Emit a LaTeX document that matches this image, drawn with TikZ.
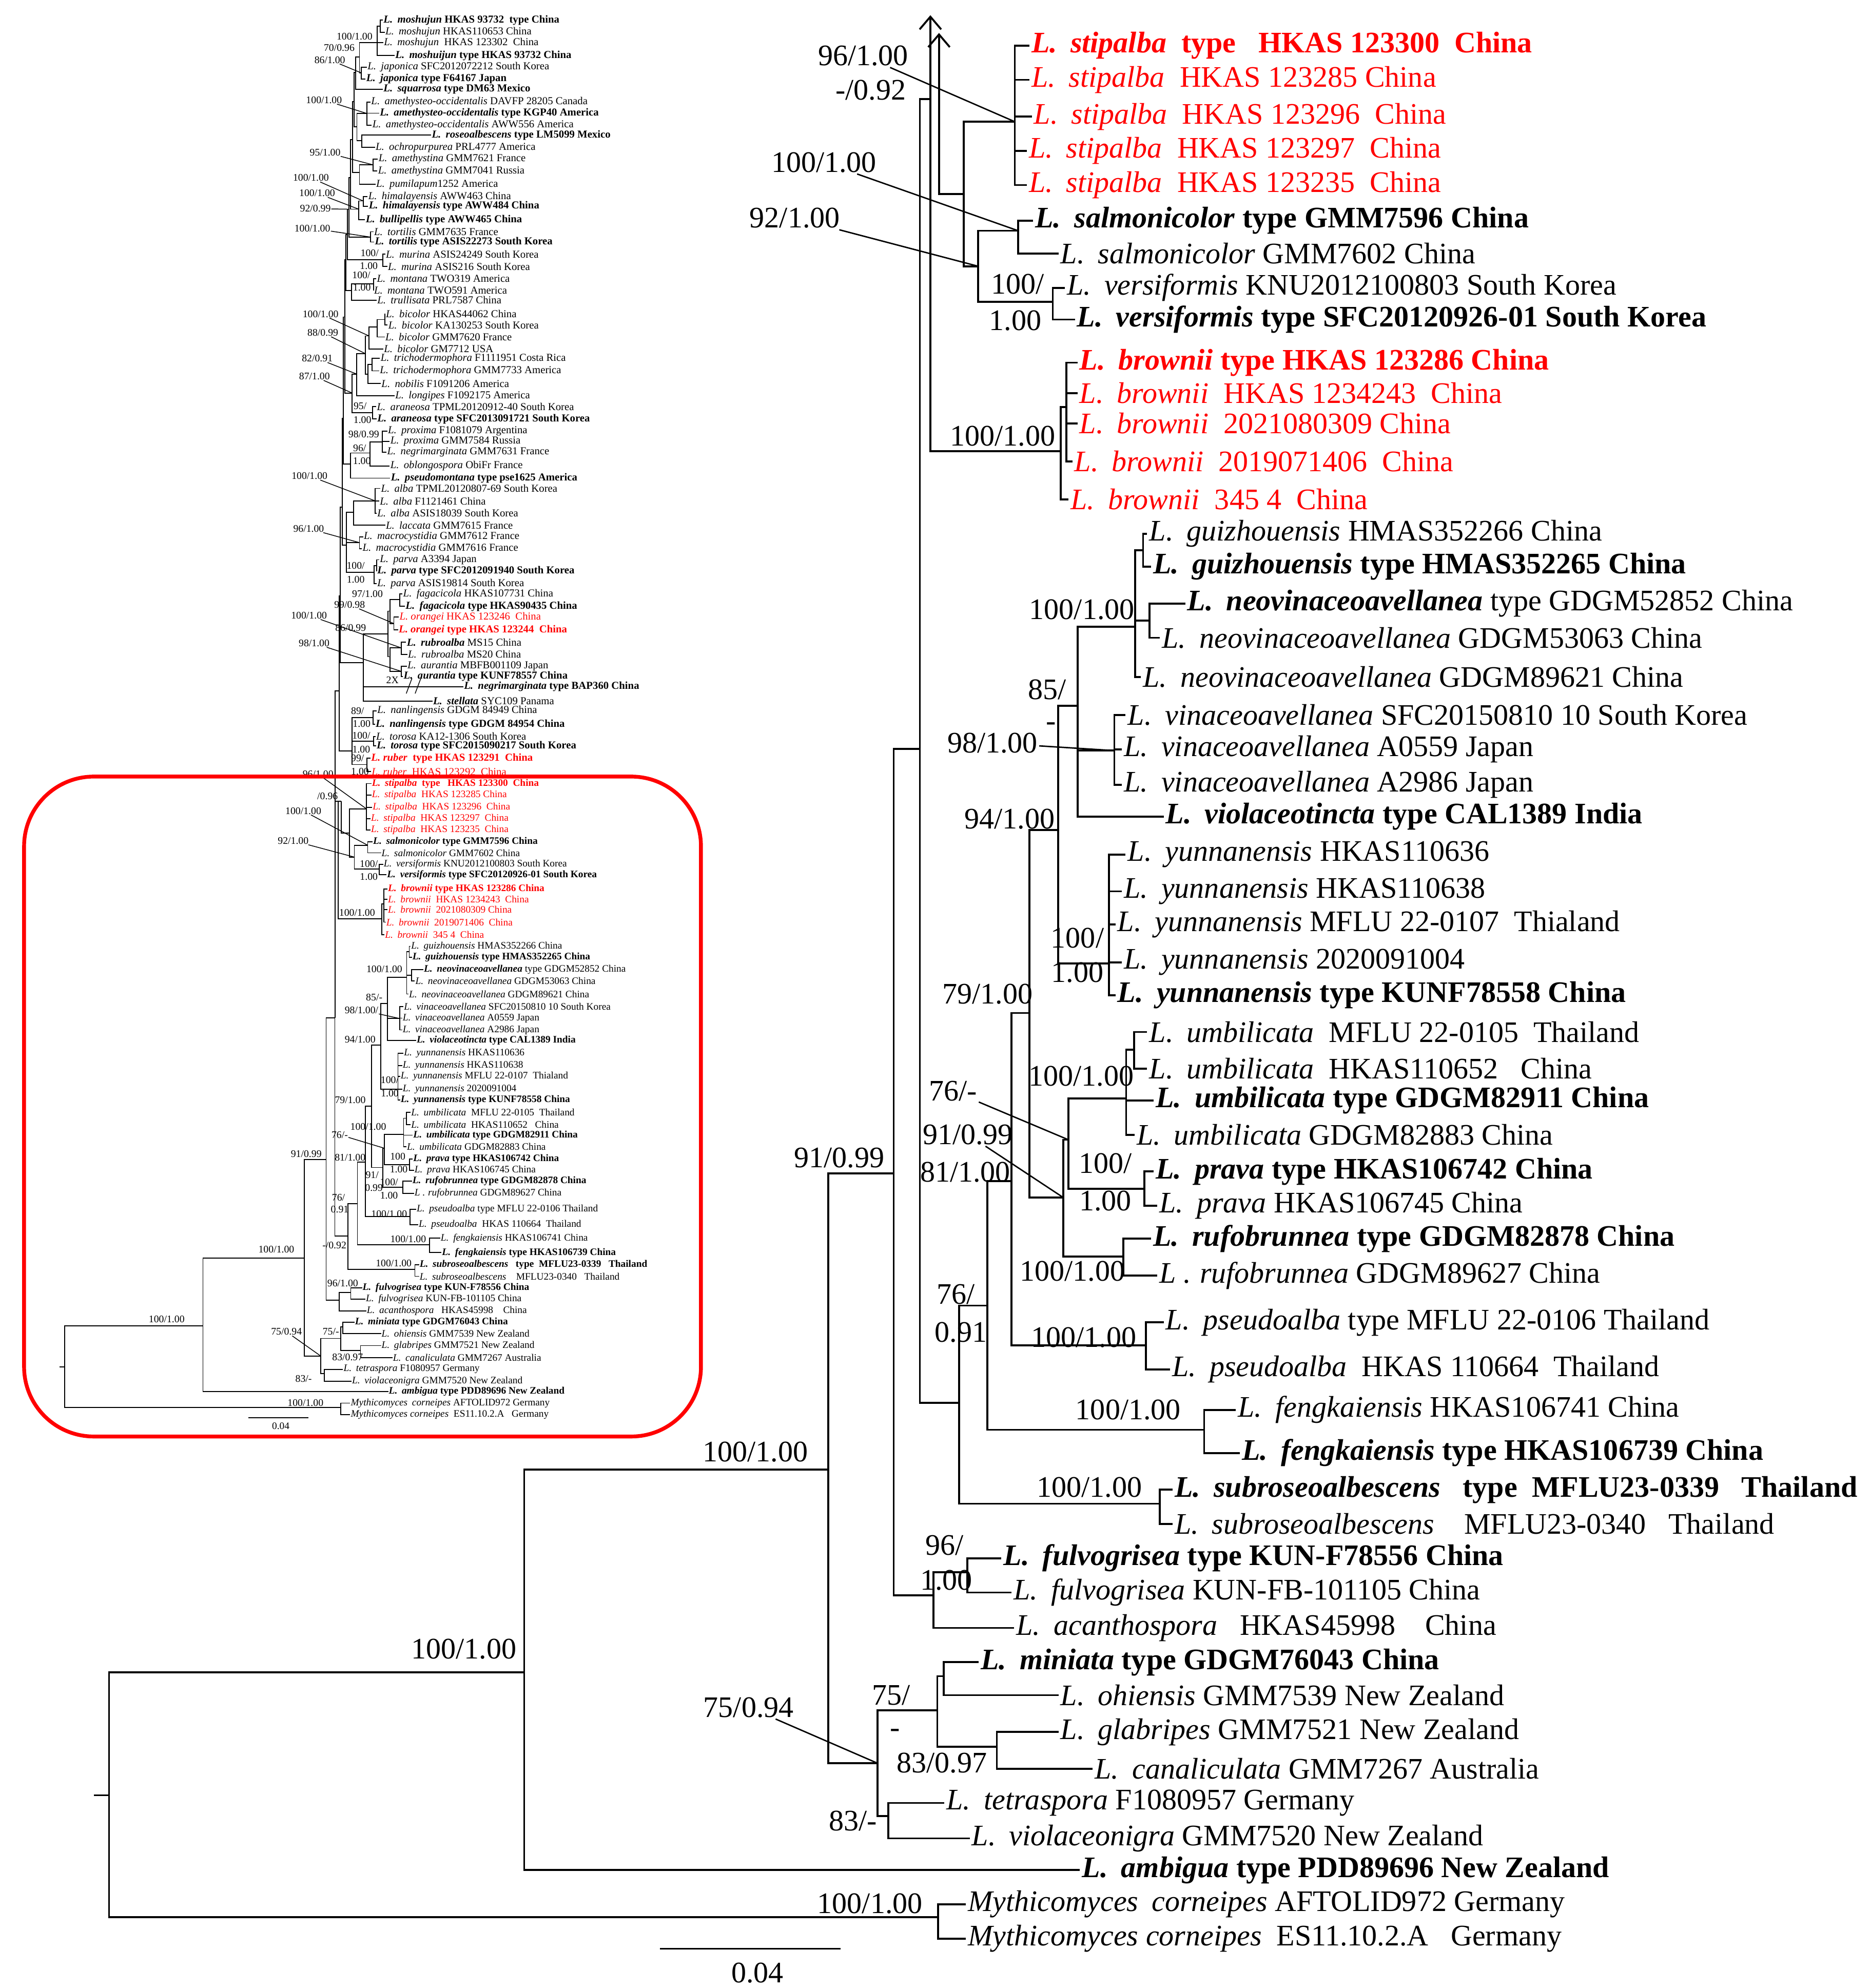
\documentclass[tikz,border=0pt]{standalone}
\usepackage{fontspec}
\setmainfont{Liberation Serif}
\usetikzlibrary{arrows.meta}

\newcommand{\lsp}[1]{\textit{L.}\hspace{0.45em}\textit{#1}}
\newcommand{\msp}{\textit{Mythicomyces}\hspace{0.45em}\textit{corneipes}}

\tikzset{
  leaf/.style={anchor=west, inner sep=1pt, font=\fontsize{23.5}{28}\selectfont},
  redleaf/.style={leaf, text=red},
  sup/.style={inner sep=0.5pt, font=\fontsize{23.5}{28}\selectfont},
  ileaf/.style={anchor=west, inner sep=0.4pt, font=\fontsize{8.4}{10}\selectfont},
  iredleaf/.style={ileaf, text=red},
  isup/.style={inner sep=0.3pt, font=\fontsize{8}{9}\selectfont},
  lead/.style={line width=1.1pt},
  ilead/.style={line width=0.6pt},
  uparrow/.style={-{Straight Barb[length=10pt,width=17pt]}},
}

% the part of the tree inside the red box (drawn large, and again small)
\newcommand{\lowertree}{%
  \node[redleaf] (st1) at (812,36) {\textbf{\lsp{stipalba}\ \ type\ \ \ HKAS 123300\ \ China}};
  \node[redleaf] (st2) at (812,63) {\lsp{stipalba}\ \ HKAS 123285 China};
  \node[redleaf] (st3) at (814,92) {\lsp{stipalba}\ \ HKAS 123296\ \ China};
  \node[redleaf] (st4) at (810,119) {\lsp{stipalba}\ \ HKAS 123297\ \ China};
  \node[redleaf] (st5) at (810,146) {\lsp{stipalba}\ \ HKAS 123235\ \ China};
  \node[leaf] (sal1) at (815,174) {\textbf{\lsp{salmonicolor} type GMM7596 China}};
  \node[leaf] (sal2) at (835,200) {\lsp{salmonicolor} GMM7602 China};
  \node[leaf] (ver1) at (840,227) {\lsp{versiformis} KNU2012100803 South Korea};
  \node[leaf] (ver2) at (848,252) {\textbf{\lsp{versiformis} type SFC20120926-01 South Korea}};
  \node[redleaf] (br1) at (850,286) {\textbf{\lsp{brownii} type HKAS 123286 China}};
  \node[redleaf] (br2) at (850,310) {\lsp{brownii}\ \ HKAS 1234243\ \ China};
  \node[redleaf] (br3) at (850,334) {\lsp{brownii}\ \ 2021080309 China};
  \node[redleaf] (br4) at (846,364) {\lsp{brownii}\ \ 2019071406\ \ China};
  \node[redleaf] (br5) at (843,394) {\lsp{brownii}\ \ 345 4\ \ China};
  \node[leaf] (gz1) at (905,421) {\lsp{guizhouensis} HMAS352266 China};
  \node[leaf] (gz2) at (908,447) {\textbf{\lsp{guizhouensis} type HMAS352265 China}};
  \node[leaf] (ne1) at (935,476) {\textbf{\lsp{neovinaceoavellanea}} type GDGM52852 China};
  \node[leaf] (ne2) at (915,503) {\lsp{neovinaceoavellanea} GDGM53063 China};
  \node[leaf] (ne3) at (900,534) {\lsp{neovinaceoavellanea} GDGM89621 China};
  \node[leaf] (vi1) at (888,564) {\lsp{vinaceoavellanea} SFC20150810 10 South Korea};
  \node[leaf] (vi2) at (885,591) {\lsp{vinaceoavellanea} A0559 Japan};
  \node[leaf] (vi3) at (885,619) {\lsp{vinaceoavellanea} A2986 Japan};
  \node[leaf] (vt) at (918,644) {\textbf{\lsp{violaceotincta} type CAL1389 India}};
  \node[leaf] (yu1) at (888,674) {\lsp{yunnanensis} HKAS110636};
  \node[leaf] (yu2) at (885,703) {\lsp{yunnanensis} HKAS110638};
  \node[leaf] (yu3) at (880,729) {\lsp{yunnanensis} MFLU 22-0107\ \ Thialand};
  \node[leaf] (yu4) at (885,759) {\lsp{yunnanensis} 2020091004};
  \node[leaf] (yu5) at (880,785) {\textbf{\lsp{yunnanensis} type KUNF78558 China}};
  \node[leaf] (um1) at (905,814) {\lsp{umbilicata}\ \ MFLU 22-0105\ \ Thailand};
  \node[leaf] (um2) at (905,843) {\lsp{umbilicata}\ \ HKAS110652\ \ \ China};
  \node[leaf] (um3) at (910,868) {\textbf{\lsp{umbilicata} type GDGM82911 China}};
  \node[leaf] (um4) at (895,895) {\lsp{umbilicata} GDGM82883 China};
  \node[leaf] (pr1) at (910,924) {\textbf{\lsp{prava} type HKAS106742 China}};
  \node[leaf] (pr2) at (913,951) {\lsp{prava} HKAS106745 China};
  \node[leaf] (ru1) at (908,977) {\textbf{\lsp{rufobrunnea} type GDGM82878 China}};
  \node[leaf] (ru2) at (913,1006) {\textit{L .}\hspace{0.3em}\textit{rufobrunnea} GDGM89627 China};
  \node[leaf] (ps1) at (918,1043) {\lsp{pseudoalba} type MFLU 22-0106 Thailand};
  \node[leaf] (ps2) at (923,1080) {\lsp{pseudoalba}\ \ HKAS 110664\ \ Thailand};
  \node[leaf] (fk1) at (975,1112) {\lsp{fengkaiensis} HKAS106741 China};
  \node[leaf] (fk2) at (978,1146) {\textbf{\lsp{fengkaiensis} type HKAS106739 China}};
  \node[leaf] (sb1) at (925,1175) {\textbf{\lsp{subroseoalbescens}\ \ \ type\ \ MFLU23-0339\ \ \ Thailand}};
  \node[leaf] (sb2) at (925,1202) {\lsp{subroseoalbescens}\ \ \ \ MFLU23-0340\ \ \ Thailand};
  \node[leaf] (fu1) at (790,1229) {\textbf{\lsp{fulvogrisea} type KUN-F78556 China}};
  \node[leaf] (fu2) at (798,1256) {\lsp{fulvogrisea} KUN-FB-101105 China};
  \node[leaf] (ac) at (800,1284) {\lsp{acanthospora}\ \ \ HKAS45998\ \ \ \ China};
  \node[leaf] (mi) at (772,1311) {\textbf{\lsp{miniata} type GDGM76043 China}};
  \node[leaf] (oh) at (835,1337) {\lsp{ohiensis} GMM7539 New Zealand};
  \node[leaf] (gl) at (835,1366) {\lsp{glabripes} GMM7521 New Zealand};
  \node[leaf] (ca) at (862,1395) {\lsp{canaliculata} GMM7267 Australia};
  \node[leaf] (te) at (745,1422) {\lsp{tetraspora} F1080957 Germany};
  \node[leaf] (vn) at (765,1450) {\lsp{violaceonigra} GMM7520 New Zealand};
  \node[leaf] (amb) at (852,1475) {\textbf{\lsp{ambigua} type PDD89696 New Zealand}};
  \node[leaf] (my1) at (762,1502) {\msp{} AFTOLID972 Germany};
  \node[leaf] (my2) at (762,1529) {\textit{Mythicomyces corneipes}\ \ ES11.10.2.A\ \ \ Germany};
  % inner nodes
  \coordinate (Rt) at (74,1416);
  \coordinate (R0) at (86,1416);
  \coordinate (N1) at (413.5,1319);
  \coordinate (N2) at (653.4,1159);
  \coordinate (N3) at (705,925.5);
  \coordinate (N4) at (725.7,590.8);
  \coordinate (T1) at (734,78);
  \coordinate (T2) at (740.8,78);
  \coordinate (S) at (760.4,153);
  \coordinate (St) at (800.6,96);
  \coordinate (SV) at (771.7,210);
  \coordinate (Sal) at (803.3,182);
  \coordinate (Ver) at (830.6,238);
  \coordinate (B) at (836.8,356);
  \coordinate (B2) at (841.3,321);
  \coordinate (N5) at (756.6,1106.4);
  \coordinate (N6) at (779,1029.7);
  \coordinate (N7) at (798,931.7);
  \coordinate (N8) at (812,799);
  \coordinate (N9) at (834.7,654.7);
  \coordinate (N11) at (850.2,556.7);
  \coordinate (GN) at (895.6,494.3);
  \coordinate (Gz) at (901.8,434);
  \coordinate (Ne) at (907,489.5);
  \coordinate (Vi) at (879.1,592);
  \coordinate (Yu) at (875,759.8);
  \coordinate (N10) at (838.8,944.5);
  \coordinate (N12) at (843,899);
  \coordinate (Um) at (888.4,866.4);
  \coordinate (Um2) at (894.6,828);
  \coordinate (Pr) at (902.8,937.5);
  \coordinate (Ru) at (886.3,991);
  \coordinate (Ps) at (903.9,1061);
  \coordinate (Fk) at (950,1127.7);
  \coordinate (Sb) at (915,1186);
  \coordinate (F) at (736.4,1258.4);
  \coordinate (F2) at (763.2,1240);
  \coordinate (N75) at (692.3,1390.7);
  \coordinate (N13) at (739.5,1349);
  \coordinate (N15) at (744.6,1322);
  \coordinate (N16) at (786.4,1377.6);
  \coordinate (N14) at (700.9,1432.4);
  \coordinate (My) at (740,1512);
  % branches
  \draw (Rt) -- (R0);
  \foreach \a/\b in {R0/N1, R0/My, N1/N2, N2/N3, N2/N75, N3/N4, N3/F, N4/T1, N4/N5,
      T1/B, T2/S, S/St, S/SV, SV/Sal, SV/Ver, B/B2, N5/N6, N5/Sb, N6/N7, N6/Fk,
      N7/N8, N7/Ps, N8/N9, N8/N10, N9/N11, N9/Yu, N11/GN, N11/Vi, GN/Gz, GN/Ne,
      N10/N12, N10/Ru, N12/Um, N12/Pr, Um/Um2, F/F2, N75/N13, N75/N14, N13/N15, N13/N16}
    \draw (\a) |- (\b);
  \foreach \a/\b in {St/st1, St/st2, St/st3, St/st4, St/st5, Sal/sal1, Sal/sal2,
      Ver/ver1, Ver/ver2, B2/br1, B2/br2, B2/br3, B2/br4, B/br5, Gz/gz1, Gz/gz2,
      Ne/ne1, Ne/ne2, GN/ne3, Vi/vi1, Vi/vi2, Vi/vi3, N11/vt, Yu/yu1, Yu/yu2, Yu/yu3,
      Yu/yu4, Yu/yu5, Um2/um1, Um2/um2, Um/um3, Um/um4, Pr/pr1, Pr/pr2, Ru/ru1, Ru/ru2,
      Ps/ps1, Ps/ps2, Fk/fk1, Fk/fk2, Sb/sb1, Sb/sb2, F2/fu1, F2/fu2, F/ac, N15/mi,
      N15/oh, N16/gl, N16/ca, N14/te, N14/vn, N1/amb, My/my1, My/my2}
    \draw (\a) |- (\b.west);
  % scale bar
  \coordinate (sbL) at (520.8,1537);
  \coordinate (sbR) at (663.3,1537);
  \draw (sbL) -- (sbR);
  \node[sup] (sbT) at (597.5,1556) {0.04};
}

\begin{document}
\begin{tikzpicture}[x=1pt, y=-1pt]
  \path[use as bounding box, fill=white] (0,0) rectangle (1475,1568);

  %% enlarged part
  \begin{scope}[name prefix=m-, line width=1.5pt]
    \lowertree
    \coordinate (tipA) at (734,12);
    \coordinate (tipB) at (740.8,26);
    \draw[uparrow] (T1) -- (tipA);
    \draw[uparrow] (T2) -- (tipB);
    \node[sup] (s96) at (681,44) {96/1.00};
    \draw[lead] (s96) -- (St);
    \node[sup] (s092) at (687,71) {-/0.92};
    \node[sup] (s100a) at (650,128) {100/1.00};
    \draw[lead] (s100a) -- (Sal);
    \node[sup] (s92) at (627,172) {92/1.00};
    \draw[lead] (s92) -- (SV);
    \node[sup] (sv1) at (803,224) {100/};
    \node[sup] (sv2) at (801,253) {1.00};
    \node[sup] (sbr) at (791,344) {100/1.00};
    \node[sup] (sgn) at (853.5,481) {100/1.00};
    \node[sup] (s85) at (826,544) {85/};
    \node[sup] (s85b) at (829,573) {-};
    \node[sup] (s98) at (783,586) {98/1.00};
    \draw[lead] (s98) -- (Vi);
    \node[sup] (s94) at (796.5,646) {94/1.00};
    \node[sup] (syu1) at (850,740) {100/};
    \node[sup] (syu2) at (850,767) {1.00};
    \node[sup] (s79) at (779,784) {79/1.00};
    \node[sup] (sum) at (853,849) {100/1.00};
    \node[sup] (s76) at (752,860.7) {76/-};
    \draw[lead] (s76) -- (N12);
    \node[sup] (s91a) at (763.5,894.8) {91/0.99};
    \draw[lead] (s91a) -- (N10);
    \node[sup] (s81) at (761.5,924.6) {81/1.00};
    \node[sup] (spr1) at (872,917.5) {100/};
    \node[sup] (spr2) at (872,947) {1.00};
    \node[sup] (sru) at (846,1002.7) {100/1.00};
    \node[sup] (s76b) at (754,1021) {76/};
    \node[sup] (s76c) at (758,1051) {0.91};
    \node[sup] (sps) at (855,1055) {100/1.00};
    \node[sup] (sfk) at (890,1112) {100/1.00};
    \node[sup] (ssb) at (859.5,1173) {100/1.00};
    \node[sup] (s91b) at (662,913) {91/0.99};
    \node[sup] (sn2) at (596,1145) {100/1.00};
    \node[sup] (sfu1) at (745,1219) {96/};
    \node[sup] (sfu2) at (746.5,1246.5) {1.00};
    \node[sup] (s75a) at (703,1337) {75/};
    \node[sup] (s75b) at (706,1367) {-};
    \node[sup] (s83) at (743,1390.7) {83/0.97};
    \node[sup] (s75) at (590.6,1346.6) {75/0.94};
    \draw[lead] (s75) -- (N75);
    \node[sup] (s83b) at (673,1436) {83/-};
    \node[sup] (sn1) at (365.9,1300.5) {100/1.00};
    \node[sup] (smy) at (686.3,1501.5) {100/1.00};
  \end{scope}

  %% small whole tree
  \begin{scope}[name prefix=in-, shift={(22.3,606)}, scale=1/3, transform shape, line width=0.75pt]
    \lowertree
  \end{scope}

  \node[ileaf] (u1) at (302,15.9) {\textbf{\lsp{moshujun} HKAS 93732\ \ type China}};
  \node[ileaf] (u2) at (303.5,25.4) {\lsp{moshujun} HKAS110653 China};
  \node[ileaf] (u3) at (302.4,33.7) {\lsp{moshujun}\ \ HKAS 123302\ \ China};
  \node[ileaf] (u4) at (311.3,43.8) {\textbf{\lsp{moshuijun} type HKAS 93732 China}};
  \node[ileaf] (u5) at (289.4,53) {\lsp{japonica} SFC2012072212 South Korea};
  \node[ileaf] (u6) at (288.4,62.3) {\textbf{\lsp{japonica} type F64167 Japan}};
  \node[ileaf] (u7) at (302,70.4) {\textbf{\lsp{squarrosa} type DM63 Mexico}};
  \node[ileaf] (u8) at (292.3,80.5) {\lsp{amethysteo-occidentalis} DAVFP 28205 Canada};
  \node[ileaf] (u9) at (299.1,89.3) {\textbf{\lsp{amethysteo-occidentalis} type KGP40 America}};
  \node[ileaf] (u10) at (293.3,98.7) {\lsp{amethysteo-occidentalis} AWW556 America};
  \node[ileaf] (u11) at (340.1,106.6) {\textbf{\lsp{roseoalbescens} type LM5099 Mexico}};
  \node[ileaf] (u12) at (295.8,116.3) {\lsp{ochropurpurea} PRL4777 America};
  \node[ileaf] (u13) at (298.1,125.5) {\lsp{amethystina} GMM7621 France};
  \node[ileaf] (u14) at (297.7,134.9) {\lsp{amethystina} GMM7041 Russia};
  \node[ileaf] (u15) at (296.2,145.4) {\lsp{pumilapum}1252 America};
  \node[ileaf] (u16) at (290,155.1) {\lsp{himalayensis} AWW463 China};
  \node[ileaf] (u17) at (290.4,162.6) {\textbf{\lsp{himalayensis} type AWW484 China}};
  \node[ileaf] (u18) at (288,173.3) {\textbf{\lsp{bullipellis} type AWW465 China}};
  \node[ileaf] (u19) at (294.6,182.8) {\lsp{tortilis} GMM7635 France};
  \node[ileaf] (u20) at (295.2,190.9) {\textbf{\lsp{tortilis} type ASIS22273 South Korea}};
  \node[ileaf] (u21) at (303.9,200.4) {\lsp{murina} ASIS24249 South Korea};
  \node[ileaf] (u22) at (305.5,210.2) {\lsp{murina} ASIS216 South Korea};
  \node[ileaf] (u23) at (296.8,219.7) {\lsp{montana} TWO319 America};
  \node[ileaf] (u24) at (294.6,229.1) {\lsp{montana} TWO591 America};
  \node[ileaf] (u25) at (297.1,236.8) {\lsp{trullisata} PRL7587 China};
  \node[ileaf] (u26) at (303.9,247.6) {\lsp{bicolor} HKAS44062 China};
  \node[ileaf] (u27) at (305.8,256.3) {\lsp{bicolor} KA130253 South Korea};
  \node[ileaf] (u28) at (303.5,265.8) {\lsp{bicolor} GMM7620 France};
  \node[ileaf] (u29) at (302.4,275.2) {\lsp{bicolor} GM7712 USA};
  \node[ileaf] (u30) at (299.7,282.7) {\lsp{trichodermophora} F1111951 Costa Rica};
  \node[ileaf] (u31) at (299.1,292.5) {\lsp{trichodermophora} GMM7733 America};
  \node[ileaf] (u32) at (300.4,302.5) {\lsp{nobilis} F1091206 America};
  \node[ileaf] (u33) at (311.3,312.3) {\lsp{longipes} F1092175 America};
  \node[ileaf] (u34) at (296.8,320.8) {\lsp{araneosa} TPML20120912-40 South Korea};
  \node[ileaf] (u35) at (297.1,330.5) {\textbf{\lsp{araneosa} type SFC2013091721 South Korea}};
  \node[ileaf] (u36) at (305.5,340) {\lsp{proxima} F1081079 Argentina};
  \node[ileaf] (u37) at (307.4,348.1) {\lsp{proxima} GMM7584 Russia};
  \node[ileaf] (u38) at (304.9,356.8) {\lsp{negrimarginata} GMM7631 France};
  \node[ileaf] (u39) at (307.4,367.6) {\lsp{oblongospora} ObiFr France};
  \node[ileaf] (u40) at (307.8,377.1) {\textbf{\lsp{pseudomontana} type pse1625 America}};
  \node[ileaf] (u41) at (300,385.2) {\lsp{alba} TPML20120807-69 South Korea};
  \node[ileaf] (u42) at (299.1,395.3) {\lsp{alba} F1121461 China};
  \node[ileaf] (u43) at (297.1,404.8) {\lsp{alba} ASIS18039 South Korea};
  \node[ileaf] (u44) at (303.9,414.2) {\lsp{laccata} GMM7615 France};
  \node[ileaf] (u45) at (286.5,423.4) {\lsp{macrocystidia} GMM7612 France};
  \node[ileaf] (u46) at (285.5,432.8) {\lsp{macrocystidia} GMM7616 France};
  \node[ileaf] (u47) at (299.1,441.5) {\lsp{parva} A3394 Japan};
  \node[ileaf] (u48) at (297.1,450.4) {\textbf{\lsp{parva} type SFC2012091940 South Korea}};
  \node[ileaf] (u49) at (297.1,460.4) {\lsp{parva} ASIS19814 South Korea};
  \node[ileaf] (u50) at (317.5,468.4) {\lsp{fagacicola} HKAS107731 China};
  \node[ileaf] (u51) at (319.4,478.3) {\textbf{\lsp{fagacicola} type HKAS90435 China}};
  \node[iredleaf] (u52) at (314.6,486.8) {\textit{L. orangei} HKAS 123246\ \ China};
  \node[iredleaf] (u53) at (314,496.8) {\textbf{\textit{L. orangei} type HKAS 123244\ \ China}};
  \node[ileaf] (u54) at (320.4,506.6) {\textbf{\lsp{rubroalba}} MS15 China};
  \node[ileaf] (u55) at (321.3,516.1) {\lsp{rubroalba} MS20 China};
  \node[ileaf] (u56) at (320.9,525.5) {\lsp{aurantia} MBFB001109 Japan};
  \node[ileaf] (u57) at (317.9,533.6) {\textbf{\lsp{aurantia} type KUNF78557 China}};
  \node[ileaf] (u58) at (365.5,541.7) {\textbf{\lsp{negrimarginata} type BAP360 China}};
  \node[ileaf] (u59) at (341.1,552.9) {\textbf{\lsp{stellata}} SYC109 Panama};
  \node[ileaf] (u60) at (297.1,560.6) {\lsp{nanlingensis} GDGM 84949 China};
  \node[ileaf] (u61) at (295.8,571.4) {\textbf{\lsp{nanlingensis} type GDGM 84954 China}};
  \node[ileaf] (u62) at (296.2,580.9) {\lsp{torosa} KA12-1306 South Korea};
  \node[ileaf] (u63) at (296.6,588.3) {\textbf{\lsp{torosa} type SFC2015090217 South Korea}};
  \node[iredleaf] (u64) at (292.3,598) {\textbf{\textit{L. ruber}\ \ type HKAS 123291\ \ China}};
  \node[iredleaf] (u65) at (292.7,608.5) {\textit{L. ruber}\ \ HKAS 123292\ \ China};

  \coordinate (mo1) at (300,20.5);
  \coordinate (mo) at (297.7,33.5);
  \coordinate (ja) at (285,57.5);
  \coordinate (J1) at (283.6,45);
  \coordinate (J2) at (280.7,57);
  \coordinate (am) at (289.4,89.5);
  \coordinate (ro) at (285.5,111);
  \coordinate (AR) at (281.6,100);
  \coordinate (amt) at (294.2,130);
  \coordinate (AT) at (283.6,136);
  \coordinate (hi) at (286.5,158.5);
  \coordinate (HB) at (283,165);
  \coordinate (tt) at (292.3,187);
  \coordinate (mu) at (302,205);
  \coordinate (mt) at (294.6,224);
  \coordinate (MT) at (277.4,229);
  \coordinate (bi1) at (303.5,252);
  \coordinate (bi2) at (297.7,258);
  \coordinate (bi) at (291.2,265);
  \coordinate (tr) at (293.5,287.5);
  \coordinate (TN) at (290.4,295);
  \coordinate (BT) at (288.4,279);
  \coordinate (BL) at (281.3,295);
  \coordinate (ar) at (293.8,325.5);
  \coordinate (BA) at (277.8,310);
  \coordinate (pn) at (301.6,348.5);
  \coordinate (po) at (291.9,357.3);
  \coordinate (PP) at (276.4,366);
  \coordinate (al) at (295.8,395);
  \coordinate (AL) at (279.1,404.1);
  \coordinate (mc) at (283.6,428);
  \coordinate (pa1) at (297.1,446);
  \coordinate (pa) at (295.2,451.3);
  \coordinate (LA) at (273.3,430);
  \coordinate (fa) at (315.5,473);
  \coordinate (or) at (310.7,491.8);
  \coordinate (FO) at (307.8,482);
  \coordinate (rb) at (316.5,511);
  \coordinate (au) at (316.5,529.5);
  \coordinate (RA) at (307.8,518);
  \coordinate (FR) at (305.9,500);
  \coordinate (NS) at (286.5,522.8);
  \coordinate (na) at (294.2,566);
  \coordinate (tor) at (294.6,584.5);
  \coordinate (ru) at (289.4,603);
  \coordinate (NTR) at (277.8,592.3);
  \coordinate (K1) at (279.5,80);
  \coordinate (K2) at (278,110);
  \coordinate (K3) at (276.5,140);
  \coordinate (K4) at (275.2,165);
  \coordinate (K5) at (274,185);
  \coordinate (K6) at (273,205);
  \coordinate (K7) at (272,250);
  \coordinate (K8) at (271,330);
  \coordinate (K9) at (270,400);
  \coordinate (K10) at (268.5,470);
  \coordinate (K11) at (267.5,545);

  \begin{scope}[line width=0.75pt]
    \foreach \a/\b in {mo/mo1, J1/mo, J1/ja, J2/J1, AR/am, AR/ro, AT/amt, HB/hi, MT/mt,
        bi2/bi1, bi/bi2, TN/tr, BT/bi, BT/TN, BL/BT, BA/BL, BA/ar, po/pn, PP/po, AL/al,
        pa/pa1, LA/AL, LA/mc, LA/pa, FO/fa, FO/or, RA/rb, RA/au, FR/FO, FR/RA, NS/FR,
        NTR/na, NTR/tor, NTR/ru, K1/J2, K1/AR, K2/K1, K2/AT, K3/K2, K3/HB, K4/K3, K4/tt,
        K5/K4, K5/mu, K6/K5, K6/MT, K7/K6, K7/BA, K8/K7, K8/PP, K9/K8, K9/LA, K10/K9,
        K10/NS, K11/K10, K11/NTR, in-N4/K11}
      \draw (\a) |- (\b);
    \foreach \a/\b in {mo1/u1, mo1/u2, mo/u3, mo/u4, ja/u5, ja/u6, J2/u7, am/u8, am/u9,
        am/u10, ro/u11, ro/u12, amt/u13, amt/u14, AT/u15, hi/u16, hi/u17, HB/u18,
        tt/u19, tt/u20, mu/u21, mu/u22, mt/u23, mt/u24, MT/u25, bi1/u26, bi1/u27,
        bi2/u28, bi/u29, tr/u30, tr/u31, TN/u32, BL/u33, ar/u34, ar/u35, pn/u36,
        pn/u37, pn/u38, po/u39, PP/u40, al/u41, al/u42, al/u43, AL/u44, mc/u45, mc/u46,
        pa1/u47, pa1/u48, pa/u49, fa/u50, fa/u51, or/u52, or/u53, rb/u54, rb/u55,
        au/u56, au/u57, NS/u58, NS/u59, na/u60, na/u61, tor/u62, tor/u63, ru/u64, ru/u65}
      \draw (\a) |- (\b.west);
    \draw (in-T1) -- (in-T2);
  \end{scope}
  \draw[ilead] (320.5,547) -- (325,535);
  \draw[ilead] (327.5,547) -- (332,535);

  % support values, small tree
  \node[isup] (a1) at (279.7,28.6) {100/1.00};
  \node[isup] (a2) at (267.6,37.5) {70/0.96};
  \node[isup] (a3) at (260.2,47.2) {86/1.00};
  \draw[ilead] (a3) -- (ja);
  \node[isup] (a4) at (255.6,78.9) {100/1.00};
  \draw[ilead] (a4) -- (am);
  \node[isup] (a5) at (256.5,120.1) {95/1.00};
  \draw[ilead] (a5) -- (amt);
  \node[isup] (a6) at (245.3,140.3) {100/1.00};
  \draw[ilead] (a6) -- (hi);
  \node[isup] (a7) at (250.2,152.4) {100/1.00};
  \draw[ilead] (a7) -- (HB);
  \node[isup] (a8) at (248.8,164.6) {92/0.99};
  \draw[ilead] (a8) -- (K4);
  \node[isup] (a9) at (246.4,180.1) {100/1.00};
  \draw[ilead] (a9) -- (tt);
  \node[isup] (a10) at (291.6,199.7) {100/};
  \node[isup] (a11) at (291,209.8) {1.00};
  \node[isup] (a12) at (285,217) {100/};
  \node[isup] (a13) at (285.5,226.7) {1.00};
  \node[isup] (a14) at (252.9,247.6) {100/1.00};
  \draw[ilead] (a14) -- (bi);
  \node[isup] (a15) at (254.7,262.4) {88/0.99};
  \draw[ilead] (a15) -- (BT);
  \node[isup] (a16) at (250.3,282.7) {82/0.91};
  \draw[ilead] (a16) -- (BL);
  \node[isup] (a17) at (248.1,296.8) {87/1.00};
  \draw[ilead] (a17) -- (BA);
  \node[isup] (a18) at (284.1,320.4) {95/};
  \node[isup] (a19) at (285.9,331.2) {1.00};
  \node[isup] (a20) at (287,342.7) {98/0.99};
  \node[isup] (a21) at (283.7,353.5) {96/};
  \node[isup] (a22) at (285.5,363.6) {1.00};
  \node[isup] (a23) at (244.2,375.4) {100/1.00};
  \draw[ilead] (a23) -- (al);
  \node[isup] (a24) at (243.5,416.9) {96/1.00};
  \draw[ilead] (a24) -- (mc);
  \node[isup] (a25) at (280.6,446.3) {100/};
  \node[isup] (a26) at (280.6,457.1) {1.00};
  \node[isup] (a27) at (289.9,468.4) {97/1.00};
  \node[isup] (a28) at (275.8,477) {99/0.98};
  \draw[ilead] (a28) -- (or);
  \node[isup] (a29) at (243.8,485.4) {100/1.00};
  \draw[ilead] (a29) -- (rb);
  \node[isup] (a30) at (276.6,495.2) {86/0.99};
  \node[isup] (a31) at (247.8,507.3) {98/1.00};
  \draw[ilead] (a31) -- (au);
  \node[isup] (a32) at (309.6,536.3) {2X};
  \node[isup] (a33) at (282.1,560.6) {89/};
  \node[isup] (a34) at (285.3,570.7) {1.00};
  \node[isup] (a35) at (285,580.2) {100/};
  \node[isup] (a36) at (285,591) {1.00};
  \node[isup] (a37) at (282.1,598) {99/};
  \node[isup] (a38) at (284,608.5) {1.00};

  \node[isup] (b1) at (250.9,610.5) {96/1.00};
  \draw[ilead] (b1) -- (in-St);
  \node[isup] (b2) at (258.4,628.1) {/0.96};
  \node[isup] (b3) at (239.3,639.5) {100/1.00};
  \draw[ilead] (b3) -- (in-Sal);
  \node[isup] (b4) at (231.3,663.1) {92/1.00};
  \draw[ilead] (b4) -- (in-SV);
  \node[isup] (b5) at (291,681.4) {100/};
  \node[isup] (b6) at (291,691.5) {1.00};
  \node[isup] (b7) at (281.7,719.8) {100/1.00};
  \node[isup] (b8) at (303.2,764.4) {100/1.00};
  \node[isup] (b9) at (295.2,786.6) {85/-};
  \node[isup] (b10) at (285.2,796.7) {98/1.00/};
  \draw[ilead] (b10) -- (in-Vi);
  \node[isup] (b11) at (284.1,819.7) {94/1.00};
  \node[isup] (b12) at (307.5,852) {100/};
  \node[isup] (b13) at (307.5,862.2) {1.00};
  \node[isup] (b14) at (276.3,867.6) {79/1.00};
  \node[isup] (b15) at (290.5,888.5) {100/1.00};
  \node[isup] (b16) at (268,895) {76/-};
  \draw[ilead] (b16) -- (in-N12);
  \node[isup] (b17) at (313.8,912.1) {100};
  \node[isup] (b18) at (314.6,922.2) {1.00};
  \node[isup] (b19) at (276.2,912.8) {81/1.00};
  \node[isup] (b20) at (293.6,926.9) {91/};
  \node[isup] (b21) at (295,937) {0.99};
  \node[isup] (b22) at (306.9,932.3) {100/};
  \node[isup] (b23) at (306.9,943.1) {1.00};
  \node[isup] (b24) at (241.6,910) {91/0.99};
  \node[isup] (b25) at (267,944.5) {76/};
  \node[isup] (b26) at (268,954) {0.91};
  \node[isup] (b27) at (307,957.3) {100/1.00};
  \node[isup] (b28) at (263.8,982.3) {-/0.92};
  \node[isup] (b29) at (322,977.5) {100/1.00};
  \node[isup] (b30) at (310.6,996.4) {100/1.00};
  \node[isup] (b31) at (270.4,1012) {96/1.00};
  \node[isup] (b32) at (218,985.6) {100/1.00};
  \node[isup] (b33) at (226,1050.4) {75/0.94};
  \draw[ilead] (b33) -- (in-N75);
  \node[isup] (b34) at (261,1050.4) {75/-};
  \node[isup] (b35) at (274.2,1070.6) {83/0.97};
  \node[isup] (b36) at (239.5,1087.5) {83/-};
  \node[isup] (b37) at (131.5,1040.3) {100/1.00};
  \node[isup] (b38) at (241,1106.4) {100/1.00};

  % red frame round the enlarged part
  \draw[red, line width=3pt, rounded corners=55pt] (19,612.5) rectangle (553,1133);
\end{tikzpicture}
\end{document}
